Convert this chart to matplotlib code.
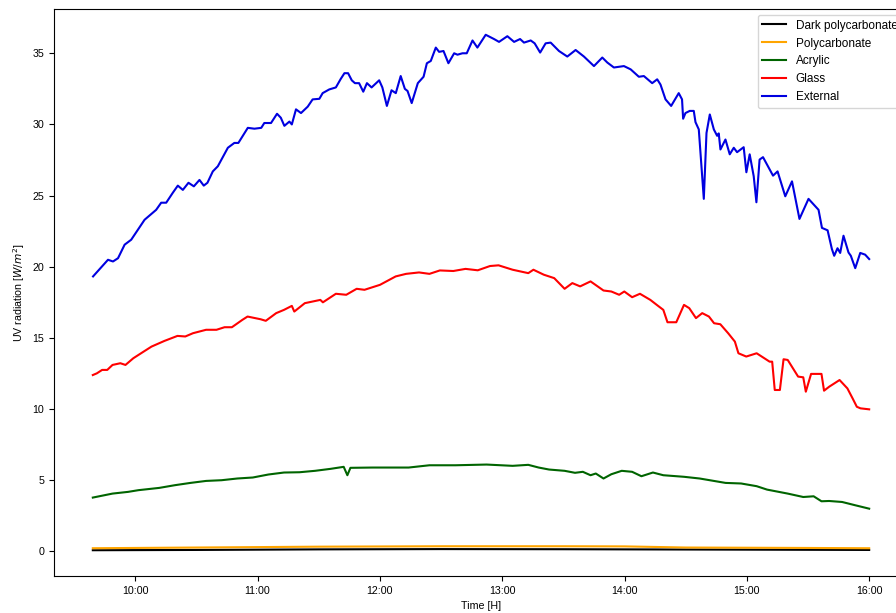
import matplotlib
matplotlib.use("Agg")
import matplotlib.pyplot as plt
from matplotlib.ticker import FuncFormatter, FixedLocator

# ---- data (time in decimal hours) ----
t_external = [9.655, 9.777, 9.818, 9.859, 9.913, 9.967, 10.076, 10.171, 10.212, 10.253, 10.307, 10.348,
              10.389, 10.435, 10.479, 10.525, 10.56, 10.59, 10.634, 10.675, 10.757, 10.81, 10.843, 10.879,
              10.92, 10.974, 11.03, 11.055, 11.11, 11.159, 11.19, 11.219, 11.26, 11.28, 11.314, 11.355,
              11.41, 11.45, 11.505, 11.532, 11.586, 11.64, 11.68, 11.71, 11.74, 11.77, 11.796, 11.83,
              11.864, 11.894, 11.932, 11.994, 12.02, 12.057, 12.095, 12.13, 12.17, 12.204, 12.226, 12.26,
              12.31, 12.357, 12.384, 12.416, 12.457, 12.484, 12.52, 12.56, 12.607, 12.634, 12.675, 12.71,
              12.757, 12.797, 12.865, 12.933, 12.974, 13.042, 13.097, 13.146, 13.178, 13.233, 13.265,
              13.31, 13.355, 13.396, 13.464, 13.532, 13.6, 13.668, 13.75, 13.818, 13.859, 13.913, 13.995,
              14.05, 14.117, 14.158, 14.226, 14.267, 14.294, 14.335, 14.381, 14.443, 14.47, 14.479,
              14.498, 14.533, 14.566, 14.58, 14.607, 14.648, 14.67, 14.697, 14.73, 14.757, 14.77, 14.784,
              14.825, 14.86, 14.893, 14.92, 14.974, 14.996, 15.023, 15.056, 15.078, 15.104, 15.132,
              15.214, 15.251, 15.314, 15.369, 15.43, 15.504, 15.586, 15.614, 15.66, 15.695, 15.714,
              15.741, 15.763, 15.79, 15.831, 15.85, 15.886, 15.927, 15.967, 16.0]
v_external = [19.32, 20.49, 20.37, 20.6, 21.55, 21.9, 23.3, 24.0, 24.5, 24.5, 25.2, 25.7,
              25.4, 25.9, 25.65, 26.1, 25.7, 25.9, 26.7, 27.06, 28.36, 28.7, 28.7, 29.2,
              29.76, 29.7, 29.76, 30.1, 30.1, 30.75, 30.47, 29.9, 30.2, 30.0, 31.06, 30.8,
              31.25, 31.76, 31.8, 32.2, 32.46, 32.6, 33.2, 33.6, 33.6, 33.1, 32.9, 32.9,
              32.3, 32.9, 32.6, 33.1, 32.6, 31.3, 32.4, 32.2, 33.4, 32.5, 32.35, 31.5,
              32.9, 33.35, 34.3, 34.46, 35.4, 35.1, 35.16, 34.3, 35.0, 34.9, 35.0, 35.0,
              35.9, 35.4, 36.3, 36.0, 35.8, 36.2, 35.8, 36.0, 35.75, 35.9, 35.7,
              35.05, 35.7, 35.75, 35.16, 34.77, 35.23, 34.77, 34.1, 34.7, 34.35, 34.0, 34.1,
              33.87, 33.35, 33.4, 32.9, 33.17, 32.8, 31.76, 31.3, 32.2, 31.76, 30.4,
              30.8, 30.95, 30.95, 30.16, 29.65, 24.77, 29.4, 30.7, 29.65, 29.2, 29.37, 28.24,
              28.94, 27.9, 28.36, 28.05, 28.4, 26.64, 27.9, 26.36, 24.53, 27.53, 27.7,
              26.4, 26.7, 24.95, 26.0, 23.36, 24.77, 24.0, 22.73, 22.56, 21.25, 20.77,
              21.3, 20.97, 22.18, 21.0, 20.77, 19.9, 20.97, 20.85, 20.54]

t_glass = [9.653, 9.686, 9.729, 9.771, 9.814, 9.878, 9.92, 9.984, 10.069, 10.133, 10.239, 10.345,
           10.409, 10.472, 10.579, 10.664, 10.73, 10.79, 10.876, 10.918, 11.025, 11.067, 11.152,
           11.216, 11.28, 11.3, 11.386, 11.513, 11.534, 11.64, 11.725, 11.81, 11.874, 12.001,
           12.129, 12.214, 12.32, 12.405, 12.49, 12.6, 12.7, 12.8, 12.9, 12.97, 13.085, 13.213,
           13.255, 13.34, 13.425, 13.51, 13.573, 13.637, 13.722, 13.828, 13.892, 13.956, 13.998,
           14.062, 14.126, 14.211, 14.274, 14.317, 14.351, 14.423, 14.486, 14.529, 14.584, 14.635,
           14.69, 14.732, 14.783, 14.847, 14.902, 14.931, 14.995, 15.08, 15.186, 15.207, 15.228,
           15.27, 15.3, 15.334, 15.419, 15.461, 15.482, 15.525, 15.61, 15.631, 15.673, 15.758,
           15.822, 15.865, 15.899, 15.929, 16.0]
v_glass = [12.39, 12.51, 12.75, 12.75, 13.1, 13.22, 13.1, 13.57, 14.04, 14.39, 14.79, 15.14,
           15.1, 15.33, 15.57, 15.57, 15.75, 15.75, 16.27, 16.5, 16.31, 16.2, 16.74,
           16.97, 17.25, 16.85, 17.44, 17.67, 17.5, 18.1, 18.03, 18.45, 18.38, 18.73,
           19.32, 19.5, 19.6, 19.5, 19.74, 19.7, 19.85, 19.75, 20.05, 20.1, 19.79, 19.55,
           19.79, 19.44, 19.2, 18.45, 18.85, 18.62, 18.97, 18.33, 18.26, 18.03, 18.26,
           17.86, 18.1, 17.67, 17.25, 16.97, 16.1, 16.1, 17.32, 17.09, 16.39, 16.74,
           16.5, 16.03, 15.96, 15.33, 14.74, 13.92, 13.69, 13.92, 13.33, 13.33, 11.34,
           11.34, 13.5, 13.45, 12.28, 12.23, 11.22, 12.47, 12.47, 11.29, 11.57, 12.04,
           11.45, 10.74, 10.16, 10.05, 9.98]

t_acrylic = [9.653, 9.814, 9.941, 10.026, 10.196, 10.324, 10.451, 10.579, 10.706, 10.834, 10.961,
             11.088, 11.216, 11.343, 11.47, 11.598, 11.704, 11.734, 11.759, 11.938, 12.235, 12.405,
             12.617, 12.872, 13.085, 13.213, 13.298, 13.383, 13.51, 13.595, 13.659, 13.722, 13.765,
             13.828, 13.892, 13.977, 14.062, 14.138, 14.232, 14.317, 14.486, 14.614, 14.826, 14.953,
             15.08, 15.165, 15.334, 15.461, 15.546, 15.61, 15.673, 15.779, 15.886, 16.0]
v_acrylic = [3.78, 4.06, 4.18, 4.3, 4.46, 4.65, 4.81, 4.95, 5.0, 5.12, 5.19,
             5.4, 5.54, 5.56, 5.66, 5.8, 5.94, 5.35, 5.87, 5.89, 5.89, 6.05,
             6.05, 6.1, 6.01, 6.08, 5.89, 5.75, 5.66, 5.52, 5.59, 5.35, 5.47,
             5.12, 5.42, 5.66, 5.59, 5.28, 5.54, 5.35, 5.24, 5.12, 4.81, 4.77,
             4.58, 4.34, 4.06, 3.82, 3.87, 3.52, 3.54, 3.47, 3.24, 3.0]

t_poly = [9.653, 10.5, 11.5, 12.5, 13.5, 14.0, 14.5, 15.5, 16.0]
v_poly = [0.22, 0.27, 0.33, 0.36, 0.36, 0.35, 0.27, 0.24, 0.22]

t_dark = [9.653, 10.5, 11.5, 12.5, 13.5, 14.5, 15.5, 16.0]
v_dark = [0.08, 0.1, 0.14, 0.16, 0.15, 0.13, 0.11, 0.1]

series = [
    ("Dark polycarbonate", t_dark, v_dark, "black"),
    ("Polycarbonate", t_poly, v_poly, "orange"),
    ("Acrylic", t_acrylic, v_acrylic, "darkgreen"),
    ("Glass", t_glass, v_glass, "red"),
    ("External", t_external, v_external, "#0000e0"),
]
hour_ticks = [10, 11, 12, 13, 14, 15, 16]

plt.rcParams['font.family'] = ['Liberation Sans', 'DejaVu Sans']
plt.rcParams['font.size'] = 7.7
plt.rcParams['mathtext.fontset'] = 'dejavusans'

fig = plt.figure(figsize=(8.96, 6.13), dpi=100)
ax = fig.add_axes([54/896, 1-576/613, (908-54)/896, (576-9)/613])

for name, t, v, c in series:
    ax.plot(t, v, color=c, lw=1.5, label=name)

ax.xaxis.set_major_locator(FixedLocator(hour_ticks))
ax.xaxis.set_major_formatter(FuncFormatter(lambda x, p: f"{int(round(x)):02d}:00"))
ax.set_xlabel("Time [H]")
ax.set_ylabel("UV radiation [$W/m^2$]")
ax.legend(loc="upper right", fontsize=8.5, handlelength=2.0)

fig.savefig("out.png", dpi=100)
